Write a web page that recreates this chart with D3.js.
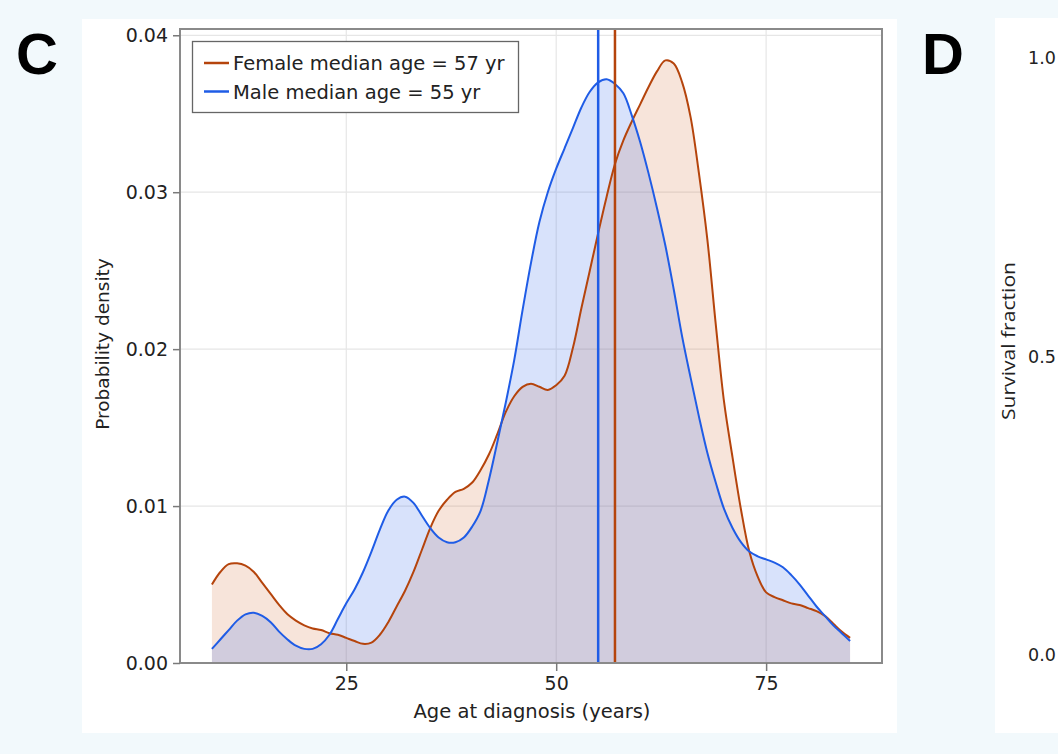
<!DOCTYPE html>
<html>
<head>
<meta charset="utf-8">
<script src="https://cdn.jsdelivr.net/npm/d3@7"></script>
<style>
  html, body { margin: 0; padding: 0; background: #f2f9fc; }
  svg { display: block; }
</style>
</head>
<body>
<svg id="chart" width="1058" height="754"></svg>
<script>
// ---- data ----
const ages = d3.range(9, 86); // 9 .. 85 years
const femaleDensity = [
  0.0050, 0.0058, 0.0063, 0.00635, 0.0062, 0.0058, 0.0051, 0.0044, 0.0037, 0.0031,
  0.0027, 0.0024, 0.0022, 0.0021, 0.0019, 0.0018, 0.0016, 0.0014, 0.00122, 0.0013,
  0.0018, 0.0026, 0.0036, 0.0046, 0.0058, 0.0072, 0.0086, 0.0097, 0.0104, 0.0109,
  0.0111, 0.0115, 0.0123, 0.0133, 0.0146, 0.0160, 0.0170, 0.0176, 0.0178, 0.0176,
  0.0174, 0.0177, 0.0183, 0.0201, 0.0226, 0.0250, 0.0274, 0.0297, 0.0318, 0.0333,
  0.0345, 0.0356, 0.0367, 0.0377, 0.0384, 0.0382, 0.0370, 0.0348, 0.0312, 0.0270,
  0.0216, 0.0166, 0.0131, 0.0098, 0.0071, 0.0055, 0.0045, 0.0042, 0.0040, 0.0038,
  0.0037, 0.0035, 0.0033, 0.0030, 0.0025, 0.0020, 0.0016
];
const maleDensity = [
  0.0009, 0.0015, 0.0021, 0.0027, 0.0031, 0.0032, 0.0030, 0.0026, 0.0020, 0.0015,
  0.0011, 0.0009, 0.0009, 0.0012, 0.0018, 0.0028, 0.0038, 0.0047, 0.0058, 0.0071,
  0.0085, 0.0097, 0.0104, 0.0106, 0.0102, 0.0094, 0.0086, 0.0080, 0.0077, 0.0077,
  0.0080, 0.0087, 0.0097, 0.0117, 0.0141, 0.0166, 0.0193, 0.0225, 0.0255, 0.0281,
  0.0300, 0.0315, 0.0328, 0.0341, 0.0354, 0.0364, 0.0370, 0.0372, 0.0369, 0.0363,
  0.0349, 0.0332, 0.0312, 0.0290, 0.0266, 0.0238, 0.0208, 0.0182, 0.0157, 0.0134,
  0.0115, 0.0098, 0.0086, 0.0077, 0.0071, 0.0068, 0.0066, 0.0064, 0.0061, 0.0056,
  0.0050, 0.0043, 0.0036, 0.0030, 0.0024, 0.0019, 0.0014
];
const medianAges = [57, 55]; // female, male
const seriesNames = ["Female median age = 57 yr", "Male median age = 55 yr"];
const xTicks = [25, 50, 75];
const yTicks = [0, 0.01, 0.02, 0.03, 0.04];
const survivalTicks = ["1.0", "0.5", "0.0"];

// ---- styling ----
const femaleColor = "#b5440c";
const maleColor = "#1f5ce6";
const femaleFill = "rgba(215,120,70,0.2)";
const maleFill = "rgba(60,110,235,0.2)";
const font = "DejaVu Sans, sans-serif";

const svg = d3.select("#chart");

// panel backgrounds
svg.append("rect").attr("x", 82).attr("y", 19).attr("width", 815).attr("height", 714).attr("fill", "#ffffff");
svg.append("rect").attr("x", 995).attr("y", 18).attr("width", 70).attr("height", 715).attr("fill", "#ffffff");

// panel letters
svg.append("text").attr("x", 16).attr("y", 74).text("C")
  .attr("font-family", "Liberation Sans, Arial, sans-serif").attr("font-weight", "bold").attr("font-size", 58).attr("fill", "#000");
svg.append("text").attr("x", 922).attr("y", 74).text("D")
  .attr("font-family", "Liberation Sans, Arial, sans-serif").attr("font-weight", "bold").attr("font-size", 58).attr("fill", "#000");

// ---- panel C ----
const L = 180, R = 882, T = 29, B = 663;
const x = d3.scaleLinear().domain([5.2, 88.8]).range([L, R]);
const y = d3.scaleLinear().domain([0, 0.0404]).range([B, T]);

const g = svg.append("g");

// grid
g.append("g").selectAll("line").data(xTicks).join("line")
  .attr("x1", d => x(d)).attr("x2", d => x(d)).attr("y1", T).attr("y2", B)
  .attr("stroke", "#e6e6e6").attr("stroke-width", 1.2);
g.append("g").selectAll("line").data(yTicks.slice(1)).join("line")
  .attr("x1", L).attr("x2", R).attr("y1", d => y(d)).attr("y2", d => y(d))
  .attr("stroke", "#e6e6e6").attr("stroke-width", 1.2);

const femaleData = ages.map((a, i) => [a, femaleDensity[i]]);
const maleData = ages.map((a, i) => [a, maleDensity[i]]);

const curve = d3.curveCatmullRom.alpha(0.5);
const area = d3.area().x(d => x(d[0])).y0(y(0)).y1(d => y(d[1])).curve(curve);
const line = d3.line().x(d => x(d[0])).y(d => y(d[1])).curve(curve);

g.append("path").datum(femaleData).attr("d", area).attr("fill", femaleFill);
g.append("path").datum(maleData).attr("d", area).attr("fill", maleFill);
g.append("path").datum(femaleData).attr("d", line).attr("fill", "none").attr("stroke", femaleColor).attr("stroke-width", 2);
g.append("path").datum(maleData).attr("d", line).attr("fill", "none").attr("stroke", maleColor).attr("stroke-width", 2);

// median lines
g.append("line").attr("x1", x(medianAges[1])).attr("x2", x(medianAges[1])).attr("y1", T).attr("y2", B)
  .attr("stroke", maleColor).attr("stroke-width", 2.5);
g.append("line").attr("x1", x(medianAges[0])).attr("x2", x(medianAges[0])).attr("y1", T).attr("y2", B)
  .attr("stroke", femaleColor).attr("stroke-width", 2.5);

// frame
g.append("rect").attr("x", L).attr("y", T).attr("width", R - L).attr("height", B - T)
  .attr("fill", "none").attr("stroke", "#8a8a8a").attr("stroke-width", 2);

// axes
const xAxis = d3.axisBottom(x).tickValues(xTicks).tickSize(8).tickPadding(6).tickFormat(d3.format("d"));
const yAxis = d3.axisLeft(y).tickValues(yTicks).tickSize(7).tickPadding(5).tickFormat(d3.format(".2f"));
const gx = g.append("g").attr("transform", `translate(0,${B})`).call(xAxis);
const gy = g.append("g").attr("transform", `translate(${L},0)`).call(yAxis);
[gx, gy].forEach(ax => {
  ax.select(".domain").remove();
  ax.selectAll(".tick line").attr("stroke", "#7a7a7a").attr("stroke-width", 1.5);
  ax.selectAll(".tick text").attr("font-family", font).attr("font-size", 19).attr("fill", "#222");
});

// axis titles
svg.append("text").attr("x", (L + R) / 2 + 1).attr("y", 718).attr("text-anchor", "middle")
  .attr("font-family", font).attr("font-size", 19.5).attr("fill", "#222").text("Age at diagnosis (years)");
svg.append("text").attr("transform", "translate(108.5,344) rotate(-90)").attr("text-anchor", "middle")
  .attr("font-family", font).attr("font-size", 18.5).attr("fill", "#222").text("Probability density");

// legend
const lg = svg.append("g");
lg.append("rect").attr("x", 192.5).attr("y", 41.5).attr("width", 326).attr("height", 71)
  .attr("fill", "#ffffff").attr("stroke", "#666").attr("stroke-width", 1.3);
const legendColors = [femaleColor, maleColor];
seriesNames.forEach((name, i) => {
  const yy = 63 + i * 28.5;
  lg.append("line").attr("x1", 204).attr("x2", 229).attr("y1", yy).attr("y2", yy)
    .attr("stroke", legendColors[i]).attr("stroke-width", 2.5);
  lg.append("text").attr("x", 233).attr("y", yy + 7).attr("font-family", font).attr("font-size", 19.5)
    .attr("fill", "#222").text(name);
});

// ---- panel D (partially visible) ----
const yD = d3.scaleLinear().domain([0, 1]).range([655, 58]);
svg.append("g").selectAll("text").data(survivalTicks).join("text")
  .attr("x", 1028).attr("y", d => yD(+d) + 6).attr("font-family", font).attr("font-size", 17.5)
  .attr("fill", "#222").text(d => d);
svg.append("text").attr("transform", "translate(1015,341) rotate(-90)").attr("text-anchor", "middle")
  .attr("font-family", "Open Sans, sans-serif").attr("font-size", 19)
  .attr("textLength", 158).attr("lengthAdjust", "spacingAndGlyphs")
  .attr("fill", "#222").text("Survival fraction");
</script>
</body>
</html>
